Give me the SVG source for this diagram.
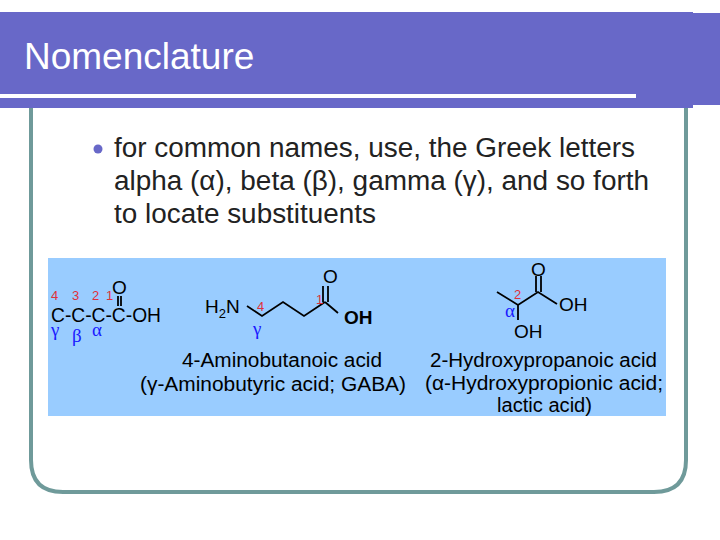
<svg xmlns="http://www.w3.org/2000/svg" width="720" height="540" viewBox="0 0 720 540">
<style>
.t{font-family:"Liberation Sans",Arial,sans-serif}
.r{fill:#e0303a;font-size:13px}
.bl{fill:#1a1aff;font-family:"Liberation Serif",serif}
.bond{stroke:#000;stroke-width:1.8;fill:none}
</style>
<rect width="720" height="540" fill="#fff"/>
<g id="frame"><path d="M31 106 V460 Q31 492 63 492 H654 Q686 492 686 460 V106" fill="none" stroke="#6f9a9a" stroke-width="4"/></g>
<g id="header">
<rect x="0" y="12" width="693" height="96" fill="#6868c8"/>
<rect x="693" y="13" width="27" height="92" fill="#6868c8"/>
<rect x="0" y="94" width="636" height="4" fill="#fff"/>
<text x="24" y="69" class="t" font-size="37" fill="#fff">Nomenclature</text>
</g>
<g id="bullet">
<circle cx="98" cy="149" r="4.5" fill="#6868c8"/>
<text class="t" font-size="27" fill="#222"><tspan x="114" y="157" textLength="521" lengthAdjust="spacingAndGlyphs">for common names, use, the Greek letters</tspan><tspan x="114" y="190" textLength="535" lengthAdjust="spacingAndGlyphs">alpha (α), beta (β), gamma (γ), and so forth</tspan><tspan x="114" y="223" textLength="262" lengthAdjust="spacingAndGlyphs">to locate substituents</tspan></text>
</g>
<g id="image">
<rect x="48" y="258" width="618" height="158" fill="#99ccff"/>
<g class="t">
<text x="51" y="322" font-size="20" textLength="110" lengthAdjust="spacingAndGlyphs">C-C-C-C-OH</text>
<text class="r" x="51" y="300">4</text><text class="r" x="72" y="300">3</text><text class="r" x="92" y="300">2</text><text class="r" x="106" y="300">1</text>
<text x="112" y="294" font-size="19">O</text>
<line x1="118" y1="296" x2="118" y2="306" class="bond"/><line x1="121" y1="296" x2="121" y2="306" class="bond"/>
<text class="bl" x="51" y="336" font-size="19">γ</text><text class="bl" x="72" y="342" font-size="19">β</text><text class="bl" x="92" y="336" font-size="19">α</text>
<text x="205" y="313" font-size="19">H<tspan font-size="13" dy="5">2</tspan><tspan dy="-5">N</tspan></text>
<text class="r" x="257" y="311">4</text>
<path class="bond" d="M247 306 L262 316 L283 302 L304 316 L325 302 M325 302 L338 313 M323 302 V286 M328 302 V286"/>
<text class="r" x="316" y="304">1</text>
<text x="323" y="283" font-size="19">O</text>
<text x="344" y="324" font-size="19" font-weight="bold">OH</text>
<text class="bl" x="253" y="335" font-size="19">γ</text>
<text x="182" y="367" font-size="20" textLength="200" lengthAdjust="spacingAndGlyphs">4-Aminobutanoic acid</text>
<text x="140" y="391" font-size="20" textLength="266" lengthAdjust="spacingAndGlyphs">(γ-Aminobutyric acid; GABA)</text>
<path class="bond" d="M497 292 L518 305 L538 292 L557 304 M518 305 V320 M536 292 V276 M541 292 V276"/>
<text class="r" x="514" y="299">2</text>
<text class="bl" x="505" y="317" font-size="19">α</text>
<text x="531" y="276" font-size="19">O</text>
<text x="559" y="311" font-size="19">OH</text>
<text x="514" y="338" font-size="19">OH</text>
<text x="430" y="367" font-size="20" textLength="227" lengthAdjust="spacingAndGlyphs">2-Hydroxypropanoic acid</text>
<text x="425" y="390" font-size="20" textLength="238" lengthAdjust="spacingAndGlyphs">(α-Hydroxypropionic acid;</text>
<text x="497" y="412" font-size="20" textLength="95" lengthAdjust="spacingAndGlyphs">lactic acid)</text>
</g>
</g>
</svg>
